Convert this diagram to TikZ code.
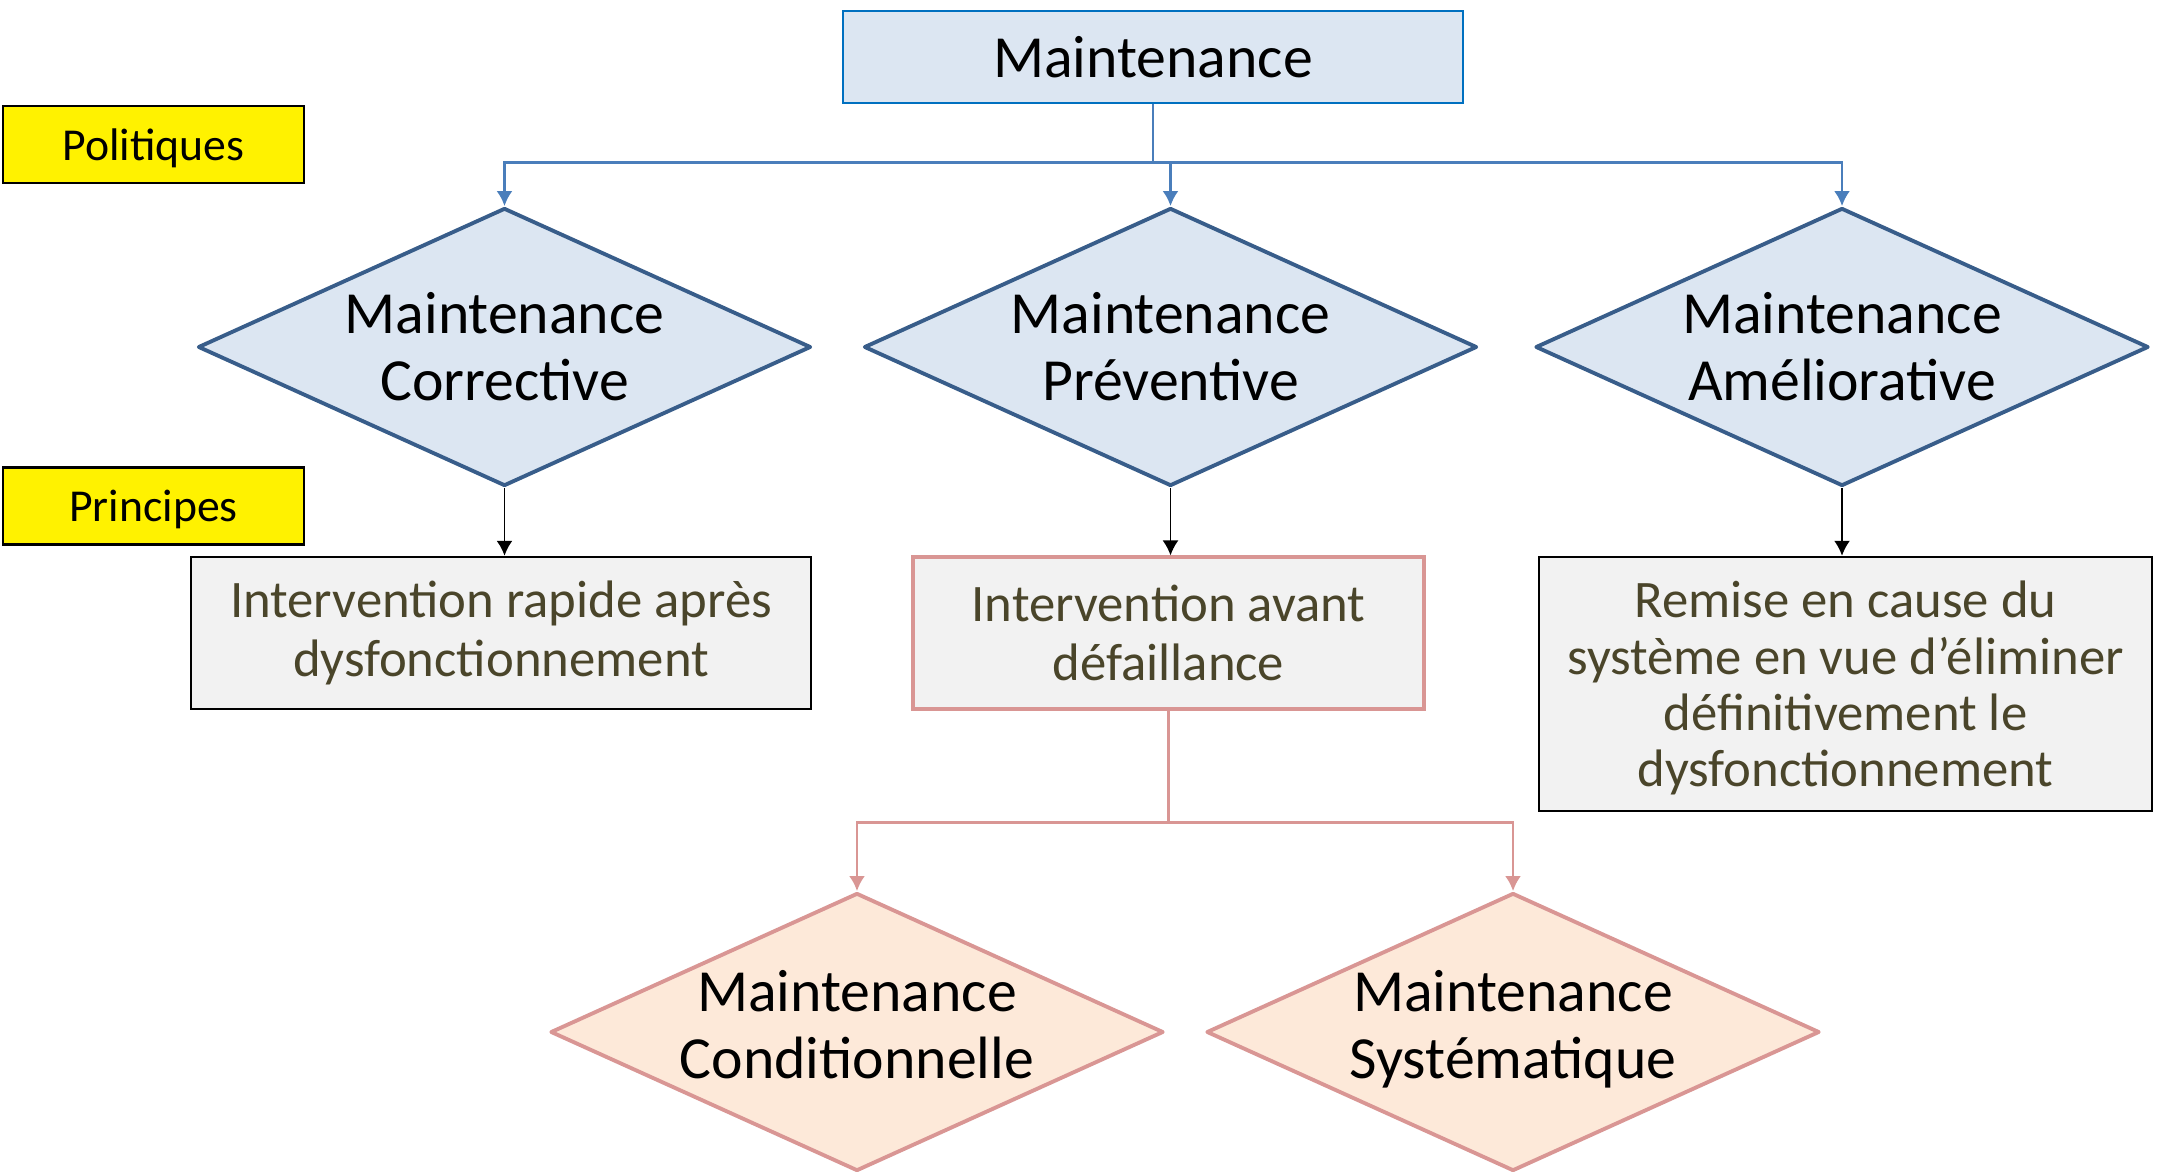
\documentclass[tikz,border=0pt]{standalone}
\usepackage{fontspec}
\setmainfont{Carlito}
\usepackage{tikz}
\usetikzlibrary{arrows.meta,shapes.geometric}
\definecolor{bleufond}{HTML}{DCE6F2}
\definecolor{bleutrait}{HTML}{385D8A}
\definecolor{bleutitre}{HTML}{0070C0}
\definecolor{bleulien}{HTML}{4A7EBB}
\definecolor{rosetrait}{HTML}{D99694}
\definecolor{rosefond}{HTML}{FDE9D9}
\definecolor{grisfond}{HTML}{F2F2F2}
\definecolor{olive}{HTML}{4A452A}
\tikzset{%
	titre/.style        = {draw=bleutitre, fill=bleufond, line width=0.7pt, rectangle, minimum width=6.2cm, minimum height=0.92cm, text centered, font=\fontsize{17}{19}\selectfont},
	etiquette/.style    = {draw, fill=yellow, line width=0.85pt, rectangle, minimum width=3.01cm, minimum height=0.77cm, text depth=0pt, text centered, font=\fontsize{13}{15}\selectfont},
	decision/.style     = {draw=bleutrait, fill=bleufond, line width=1.1pt, line join=round, diamond, aspect=2.2, inner xsep=-0.4cm, inner ysep=0pt, minimum width=6.13cm, minimum height=2.78cm, align=center, font=\fontsize{17}{19}\selectfont},
	decisionrose/.style = {decision, draw=rosetrait, fill=rosefond, text depth=0.15cm},
	process/.style      = {draw, fill=grisfond, line width=0.7pt, rectangle, minimum height=1.52cm, align=center, text=olive, font=\fontsize{15}{17}\selectfont},
	processrose/.style  = {process, draw=rosetrait, line width=0.9pt},
	arrow/.style        = {line width=0.55pt, -{Latex[length=0.15cm,width=0.16cm]}},
	arrowbleu/.style    = {arrow, line width=0.75pt, draw=bleulien},
	arrowrose/.style    = {arrow, line width=0.75pt, draw=rosetrait},
}
\begin{document}
\begin{tikzpicture}
	\useasboundingbox (0,0) rectangle (21.6,-11.72);
	
	\node[titre] (maint) at (11.53,-0.57) {Maintenance};
	\node[etiquette] (polit) at (1.535,-1.445) {Politiques};
	\node[etiquette] (princ) at (1.535,-5.055) {Principes};
	
	% politiques
	\node[decision] (corr) at (5.045,-3.47) {Maintenance\\Corrective};
	\node[decision] (prev) at (11.705,-3.47) {Maintenance\\Préventive};
	\node[decision] (amel) at (18.42,-3.47) {Maintenance\\Améliorative};
	
	% principes
	\node[process, minimum width=6.2cm] (rapide) at (5.01,-6.33) {Intervention rapide après\\dysfonctionnement};
	\node[processrose, minimum width=5.11cm] (avant) at (11.685,-6.33) {Intervention avant\\défaillance};
	\node[process, minimum width=6.13cm, minimum height=2.54cm, text depth=0pt, font=\fontsize{15}{16}\selectfont] (remise) at (18.455,-6.84) {Remise en cause du\\système en vue d’éliminer\\définitivement le\\dysfonctionnement};
	
	\node[decisionrose] (cond) at (8.57,-10.32) {Maintenance\\Conditionnelle};
	\node[decisionrose] (syst) at (15.13,-10.32) {Maintenance\\Systématique};
	
	\draw[arrowbleu] (maint.south) -- +(0,-0.58) -| (corr.north);
	\draw[arrowbleu] (maint.south) -- +(0,-0.58) -| (prev.north);
	\draw[arrowbleu] (maint.south) -- +(0,-0.58) -| (amel.north);
	
	\draw[arrow] (corr.south) -- (corr.south |- rapide.north);
	\draw[arrow] (prev.south) -- (prev.south |- avant.north);
	\draw[arrow] (amel.south) -- (amel.south |- remise.north);
	
	\draw[arrowrose] (avant.south) -- +(0,-1.12) -| (cond.north);
	\draw[arrowrose] (avant.south) -- +(0,-1.12) -| (syst.north);
\end{tikzpicture}
\end{document}
